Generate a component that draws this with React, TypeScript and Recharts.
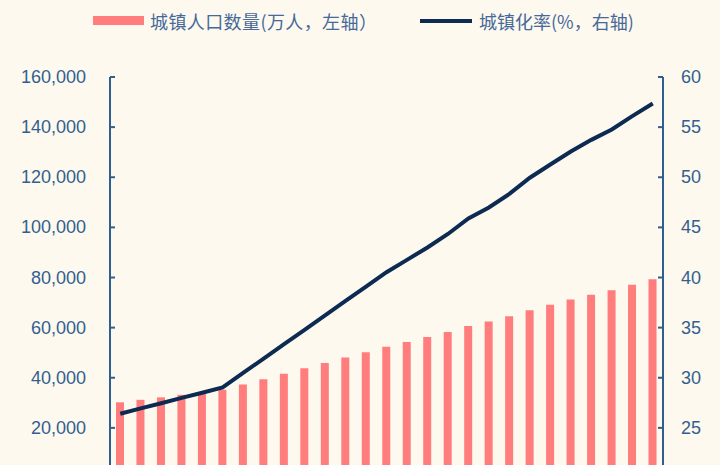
import React from "react";
import {
  ComposedChart,
  Bar,
  Line,
  XAxis,
  YAxis,
  Legend,
} from "recharts";

// 1990 - 2016
const years = [
  "1990", "1991", "1992", "1993", "1994", "1995", "1996", "1997", "1998",
  "1999", "2000", "2001", "2002", "2003", "2004", "2005", "2006", "2007",
  "2008", "2009", "2010", "2011", "2012", "2013", "2014", "2015", "2016",
];

// 城镇人口数量（万人）
const urbanPop = [
  30195, 31203, 32175, 33173, 34169, 35174, 37304, 39449, 41608,
  43748, 45906, 48064, 50212, 52376, 54283, 56212, 58288, 60633,
  62403, 64512, 66978, 69079, 71182, 73111, 74916, 77116, 79298,
];

// 城镇化率（%）
const urbanRate = [
  26.41, 26.94, 27.46, 27.99, 28.51, 29.04, 30.48, 31.91, 33.35,
  34.78, 36.22, 37.66, 39.09, 40.53, 41.76, 42.99, 44.34, 45.89,
  46.99, 48.34, 49.95, 51.27, 52.57, 53.73, 54.77, 56.1, 57.35,
];

// the 0 / 20 ticks fall below the visible crop of the reference
const leftTicks = [20000, 40000, 60000, 80000, 100000, 120000, 140000, 160000];
const rightTicks = [25, 30, 35, 40, 45, 50, 55, 60];

const data = years.map((y, i) => ({
  year: y,
  pop: urbanPop[i],
  rate: urbanRate[i],
}));

const BG = "#FDF9EE";
const AXIS = "#2F5E91";
const TEXT = "#335F90";
const BAR = "#FF7D7D";
const LINE = "#0C2A52";

const LeftTick = (props: any) => {
  const { x, y, payload } = props;
  return (
    <g>
      <line x1={x} y1={y} x2={x + 5} y2={y} stroke={AXIS} strokeWidth={2} />
      <text
        x={x - 24}
        y={y}
        dy={6}
        textAnchor="end"
        fill={TEXT}
        fontSize={18}
        fontFamily="Liberation Sans, Arial, sans-serif"
      >
        {payload.value.toLocaleString("en-US")}
      </text>
    </g>
  );
};

const RightTick = (props: any) => {
  const { x, y, payload } = props;
  return (
    <g>
      <line x1={x} y1={y} x2={x - 5} y2={y} stroke={AXIS} strokeWidth={2} />
      <text
        x={x + 18}
        y={y}
        dy={6}
        textAnchor="start"
        fill={TEXT}
        fontSize={18}
        fontFamily="Liberation Sans, Arial, sans-serif"
      >
        {payload.value}
      </text>
    </g>
  );
};

const legendText: React.CSSProperties = {
  position: "absolute",
  top: 8,
  fontSize: 18,
  lineHeight: "26px",
  color: "#46699A",
  fontFamily: "Noto Sans CJK SC, sans-serif",
  whiteSpace: "nowrap",
};

const renderLegend = () => (
  <div style={{ position: "relative", width: 720, height: 40 }}>
    <div
      style={{
        position: "absolute",
        left: 93,
        top: 16,
        width: 51,
        height: 9,
        background: BAR,
      }}
    />
    <div style={{ ...legendText, left: 150, letterSpacing: 0.4 }}>
      城镇人口数量(万人，左轴）
    </div>
    <div
      style={{
        position: "absolute",
        left: 420,
        top: 19,
        width: 52,
        height: 4,
        background: LINE,
      }}
    />
    <div style={{ ...legendText, left: 479 }}>城镇化率(%，右轴)</div>
  </div>
);

export default function App() {
  return (
    <div
      style={{
        position: "absolute",
        left: 0,
        top: 0,
        width: 720,
        height: 465,
        overflow: "hidden",
        background: BG,
      }}
    >
      <ComposedChart
        width={720}
        height={515}
        data={data}
        margin={{ top: 37, right: 0, left: 0, bottom: 5 }}
        barCategoryGap={0}
      >
        <Legend
          verticalAlign="top"
          content={renderLegend}
          wrapperStyle={{ top: 0, left: 0, width: 720, height: 40 }}
        />
        {/* year labels sit below the visible crop in the reference */}
        <XAxis
          dataKey="year"
          height={32}
          axisLine={{ stroke: AXIS, strokeWidth: 2 }}
          tickLine={false}
          tick={false}
        />
        <YAxis
          yAxisId="left"
          orientation="left"
          width={110}
          domain={[0, 160000]}
          ticks={leftTicks}
          interval={0}
          tickSize={0}
          tickMargin={0}
          axisLine={{ stroke: AXIS, strokeWidth: 2 }}
          tickLine={false}
          tick={<LeftTick />}
        />
        <YAxis
          yAxisId="right"
          orientation="right"
          width={57}
          domain={[20, 60]}
          ticks={rightTicks}
          interval={0}
          tickSize={0}
          tickMargin={0}
          axisLine={{ stroke: AXIS, strokeWidth: 2 }}
          tickLine={false}
          tick={<RightTick />}
        />
        <Bar
          yAxisId="left"
          dataKey="pop"
          fill={BAR}
          barSize={8}
          isAnimationActive={false}
        />
        <Line
          yAxisId="right"
          dataKey="rate"
          type="linear"
          stroke={LINE}
          strokeWidth={4}
          dot={false}
          activeDot={false}
          isAnimationActive={false}
        />
      </ComposedChart>
    </div>
  );
}
